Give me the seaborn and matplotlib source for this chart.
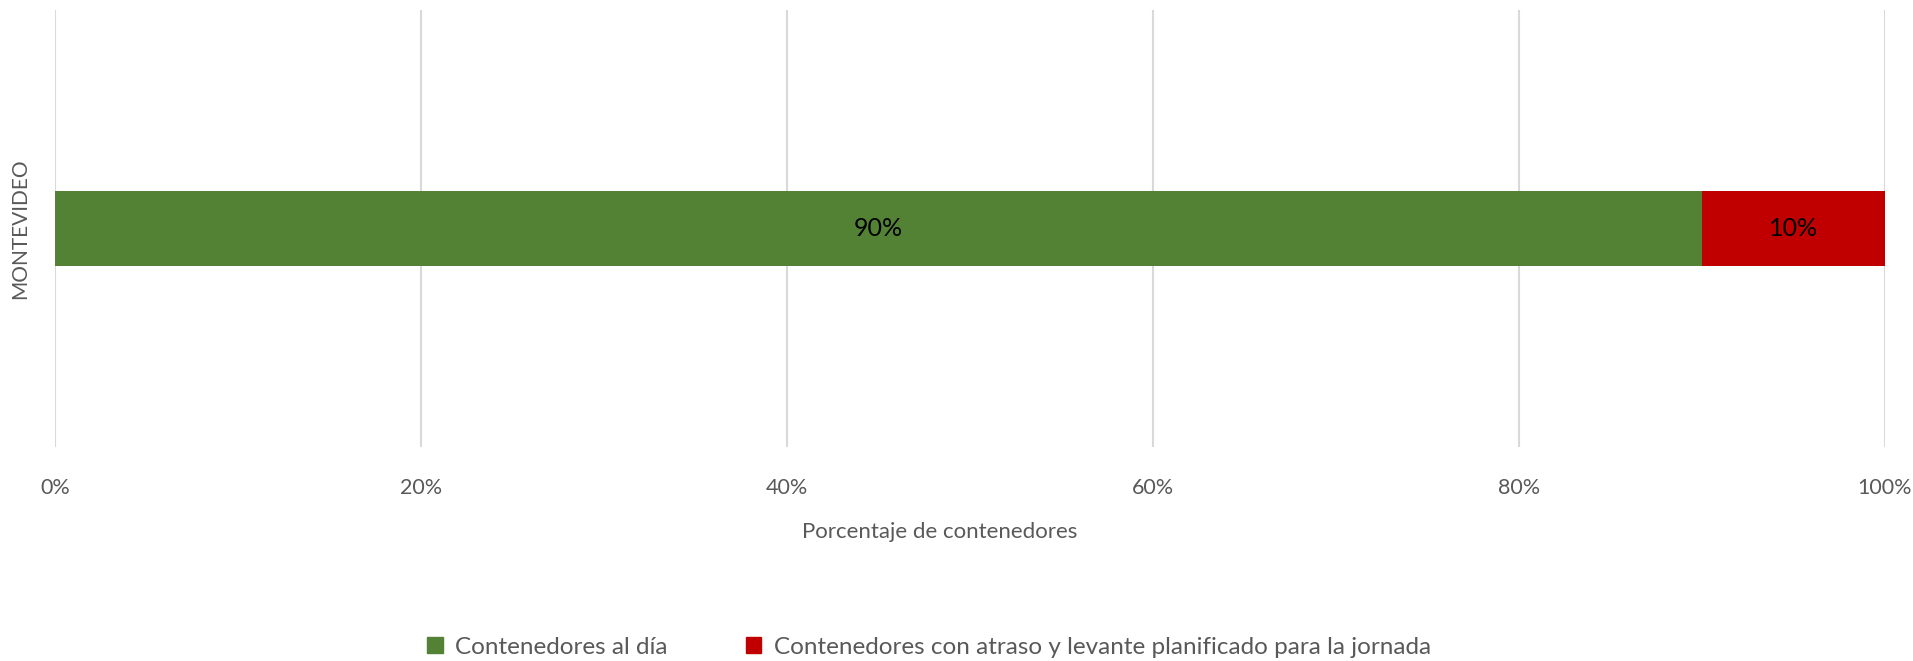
import matplotlib
matplotlib.use("Agg")
import matplotlib.pyplot as plt
import seaborn as sns
from matplotlib.patches import Patch

regions = ["MONTEVIDEO"]
al_dia = [90]
atraso = [10]
series_names = ["Contenedores al día",
                "Contenedores con atraso y levante planificado para la jornada"]
xticks = [0, 20, 40, 60, 80, 100]

green = "#548235"
red = "#C00000"
grey_txt = "#595959"

sns.set_theme(style="white")
plt.rcParams["font.family"] = ["Lato", "DejaVu Sans"]

fig = plt.figure(figsize=(19.13, 6.61), dpi=100)
ax = fig.add_axes([55 / 1913, 1 - 447 / 661, 1830 / 1913, 437 / 661])

totals = [a + b for a, b in zip(al_dia, atraso)]
# stacked: draw totals first, then the first segment over it
sns.barplot(x=totals, y=regions, orient="h", color=red, saturation=1,
            width=0.17, linewidth=0, ax=ax, zorder=2)
sns.barplot(x=al_dia, y=regions, orient="h", color=green, saturation=1,
            width=0.17, linewidth=0, ax=ax, zorder=3)

for i, (a, b) in enumerate(zip(al_dia, atraso)):
    ax.text(a / 2, i, f"{a}%", ha="center", va="center", fontsize=18, color="black", zorder=4)
    ax.text(a + b / 2, i, f"{b}%", ha="center", va="center", fontsize=18, color="black", zorder=4)

ax.set_xlim(0, 100)
ax.set_ylim(0.5, -0.5)
ax.set_xticks(xticks)
ax.set_xticklabels([f"{t}%" for t in xticks], fontsize=15.5, color=grey_txt)
ax.tick_params(axis="x", length=0, pad=22)
ax.tick_params(axis="y", length=0, pad=18)
ax.set_yticks(range(len(regions)))
ax.set_yticklabels(regions, rotation=90, va="center", fontsize=15, color=grey_txt)
ax.xaxis.grid(True, color="#D9D9D9", linewidth=1.5, zorder=0)
ax.set_axisbelow(True)
for s in ax.spines.values():
    s.set_visible(False)
ax.set_xlabel("")
ax.set_ylabel("")

fig.text(940 / 1913, 1 - 532 / 661, "Porcentaje de contenedores", ha="center", va="center",
         fontsize=16, color=grey_txt)

handles = [Patch(color=green), Patch(color=red)]
fig.legend(handles, series_names, loc="center", bbox_to_anchor=(929 / 1913, 1 - 647 / 661),
           ncol=2, frameon=False, fontsize=17.5, labelcolor=grey_txt,
           handlelength=0.65, handleheight=0.65, handletextpad=0.5, columnspacing=3.2)

fig.savefig("out.png", dpi=100)
